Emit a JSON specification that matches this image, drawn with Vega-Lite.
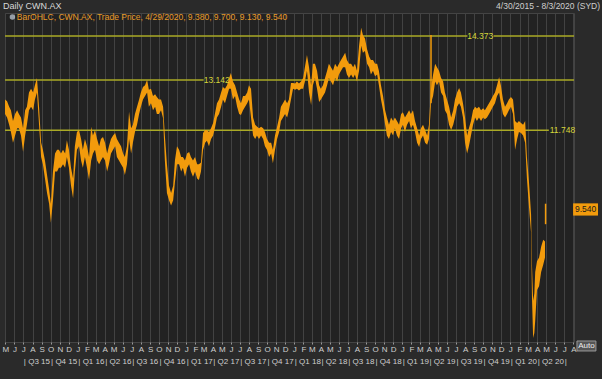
{
  "$schema": "https://vega.github.io/schema/vega-lite/v6.json",
  "width": 569,
  "height": 329,
  "autosize": {"type": "none"},
  "padding": {"left": 5, "top": 13, "right": 28, "bottom": 37},
  "background": "#2a2a2a",
  "config": {
    "view": {"fill": "#222222", "stroke": "#444444"},
    "axis": {"labelFont": "Liberation Sans", "titleFont": "Liberation Sans", "gridColor": "#424242", "gridWidth": 1, "gridOpacity": 1},
    "text": {"font": "Liberation Sans"}
  },
  "resolve": {"axis": {"x": "independent"}},
  "datasets": {
    "levels": [
      {"v": 14.373, "d1": "2015-04-30", "d2": "2019-08-09"},
      {"v": 14.373, "d1": "2019-11-05", "d2": "2020-08-03"},
      {"v": 13.142, "d1": "2015-04-30", "d2": "2017-03-01"},
      {"v": 13.142, "d1": "2017-05-26", "d2": "2020-08-03"},
      {"v": 11.748, "d1": "2015-04-30", "d2": "2020-05-10"}
    ],
    "levelLabels": [
      {"v": 14.373, "d": "2019-09-21", "t": "14.373"},
      {"v": 13.142, "d": "2017-04-14", "t": "13.142"},
      {"v": 11.748, "d": "2020-06-25", "t": "11.748"}
    ],
    "bars": [
      {"d": "2019-04-08", "lo": 12.5, "hi": 14.4},
      {"d": "2020-04-29", "lo": 9.13, "hi": 9.70}
    ],
    "price": [
      {"d": "2015-04-30", "lo": 12.2, "hi": 12.6},
      {"d": "2015-05-07", "lo": 12.1, "hi": 12.55},
      {"d": "2015-05-14", "lo": 11.9, "hi": 12.4},
      {"d": "2015-05-20", "lo": 11.7, "hi": 12.3},
      {"d": "2015-05-27", "lo": 11.4, "hi": 12.0},
      {"d": "2015-06-03", "lo": 11.6, "hi": 12.2},
      {"d": "2015-06-10", "lo": 11.8, "hi": 12.3},
      {"d": "2015-06-16", "lo": 11.8, "hi": 12.2},
      {"d": "2015-06-23", "lo": 11.6, "hi": 12.1},
      {"d": "2015-06-30", "lo": 11.15, "hi": 11.8},
      {"d": "2015-07-07", "lo": 11.6, "hi": 12.3},
      {"d": "2015-07-13", "lo": 11.9, "hi": 12.4},
      {"d": "2015-07-20", "lo": 12.3, "hi": 12.8},
      {"d": "2015-07-27", "lo": 12.4, "hi": 12.9},
      {"d": "2015-08-03", "lo": 12.3, "hi": 12.8},
      {"d": "2015-08-09", "lo": 12.6, "hi": 13.0},
      {"d": "2015-08-16", "lo": 12.8, "hi": 13.2},
      {"d": "2015-08-23", "lo": 11.9, "hi": 12.4},
      {"d": "2015-08-30", "lo": 11.0, "hi": 11.4},
      {"d": "2015-09-05", "lo": 10.8, "hi": 11.2},
      {"d": "2015-09-12", "lo": 10.4, "hi": 10.9},
      {"d": "2015-09-19", "lo": 10.0, "hi": 10.5},
      {"d": "2015-09-26", "lo": 9.7, "hi": 10.1},
      {"d": "2015-10-02", "lo": 9.17, "hi": 9.7},
      {"d": "2015-10-09", "lo": 9.8, "hi": 10.6},
      {"d": "2015-10-16", "lo": 10.6, "hi": 11.1},
      {"d": "2015-10-23", "lo": 10.6, "hi": 11.2},
      {"d": "2015-10-29", "lo": 10.7, "hi": 11.2},
      {"d": "2015-11-05", "lo": 10.7, "hi": 11.1},
      {"d": "2015-11-12", "lo": 10.8, "hi": 11.2},
      {"d": "2015-11-19", "lo": 10.7, "hi": 11.1},
      {"d": "2015-11-25", "lo": 11.0, "hi": 11.47},
      {"d": "2015-12-02", "lo": 10.7, "hi": 11.2},
      {"d": "2015-12-09", "lo": 10.2, "hi": 10.7},
      {"d": "2015-12-16", "lo": 9.85, "hi": 10.4},
      {"d": "2015-12-22", "lo": 10.6, "hi": 11.3},
      {"d": "2015-12-29", "lo": 11.2, "hi": 11.7},
      {"d": "2016-01-05", "lo": 11.3, "hi": 11.75},
      {"d": "2016-01-12", "lo": 10.9, "hi": 11.5},
      {"d": "2016-01-18", "lo": 10.7, "hi": 11.2},
      {"d": "2016-01-25", "lo": 11.0, "hi": 11.5},
      {"d": "2016-02-01", "lo": 10.7, "hi": 11.3},
      {"d": "2016-02-08", "lo": 10.36, "hi": 11.0},
      {"d": "2016-02-15", "lo": 10.9, "hi": 11.84},
      {"d": "2016-02-21", "lo": 11.1, "hi": 11.6},
      {"d": "2016-02-28", "lo": 11.2, "hi": 11.75},
      {"d": "2016-03-06", "lo": 10.9, "hi": 11.5},
      {"d": "2016-03-13", "lo": 10.8, "hi": 11.3},
      {"d": "2016-03-19", "lo": 10.9, "hi": 11.5},
      {"d": "2016-03-26", "lo": 11.0, "hi": 11.56},
      {"d": "2016-04-02", "lo": 10.9, "hi": 11.4},
      {"d": "2016-04-09", "lo": 10.6, "hi": 11.1},
      {"d": "2016-04-15", "lo": 10.8, "hi": 11.3},
      {"d": "2016-04-22", "lo": 11.1, "hi": 11.5},
      {"d": "2016-04-29", "lo": 11.2, "hi": 11.6},
      {"d": "2016-05-06", "lo": 11.3, "hi": 11.67},
      {"d": "2016-05-12", "lo": 11.0, "hi": 11.5},
      {"d": "2016-05-19", "lo": 10.9, "hi": 11.4},
      {"d": "2016-05-26", "lo": 10.8, "hi": 11.3},
      {"d": "2016-06-02", "lo": 10.7, "hi": 11.1},
      {"d": "2016-06-08", "lo": 10.5, "hi": 11.0},
      {"d": "2016-06-15", "lo": 10.8, "hi": 11.3},
      {"d": "2016-06-22", "lo": 11.5, "hi": 12.26},
      {"d": "2016-06-29", "lo": 11.1, "hi": 11.8},
      {"d": "2016-07-05", "lo": 11.4, "hi": 11.9},
      {"d": "2016-07-12", "lo": 11.7, "hi": 12.2},
      {"d": "2016-07-19", "lo": 11.9, "hi": 12.4},
      {"d": "2016-07-26", "lo": 12.2, "hi": 12.6},
      {"d": "2016-08-01", "lo": 12.4, "hi": 12.8},
      {"d": "2016-08-08", "lo": 12.6, "hi": 12.95},
      {"d": "2016-08-15", "lo": 12.7, "hi": 13.0},
      {"d": "2016-08-22", "lo": 12.8, "hi": 13.15},
      {"d": "2016-08-28", "lo": 12.4, "hi": 12.87},
      {"d": "2016-09-04", "lo": 12.5, "hi": 12.9},
      {"d": "2016-09-11", "lo": 12.3, "hi": 12.7},
      {"d": "2016-09-18", "lo": 12.4, "hi": 12.75},
      {"d": "2016-09-24", "lo": 12.2, "hi": 12.67},
      {"d": "2016-10-01", "lo": 12.2, "hi": 12.6},
      {"d": "2016-10-08", "lo": 12.3, "hi": 12.6},
      {"d": "2016-10-15", "lo": 12.08, "hi": 12.4},
      {"d": "2016-10-21", "lo": 10.9, "hi": 11.6},
      {"d": "2016-10-28", "lo": 10.0, "hi": 10.8},
      {"d": "2016-11-04", "lo": 9.8, "hi": 10.2},
      {"d": "2016-11-11", "lo": 9.65, "hi": 10.0},
      {"d": "2016-11-18", "lo": 9.8, "hi": 10.2},
      {"d": "2016-11-24", "lo": 10.3, "hi": 10.9},
      {"d": "2016-12-01", "lo": 10.8, "hi": 11.3},
      {"d": "2016-12-08", "lo": 10.8, "hi": 11.2},
      {"d": "2016-12-15", "lo": 10.6, "hi": 11.0},
      {"d": "2016-12-21", "lo": 10.7, "hi": 11.0},
      {"d": "2016-12-28", "lo": 10.45, "hi": 10.9},
      {"d": "2017-01-04", "lo": 10.7, "hi": 11.1},
      {"d": "2017-01-11", "lo": 10.8, "hi": 11.14},
      {"d": "2017-01-17", "lo": 10.6, "hi": 11.0},
      {"d": "2017-01-24", "lo": 10.45, "hi": 10.9},
      {"d": "2017-01-31", "lo": 10.6, "hi": 11.0},
      {"d": "2017-02-07", "lo": 10.4, "hi": 10.8},
      {"d": "2017-02-13", "lo": 10.36, "hi": 10.8},
      {"d": "2017-02-20", "lo": 10.6, "hi": 10.85},
      {"d": "2017-02-27", "lo": 11.2, "hi": 11.67},
      {"d": "2017-03-06", "lo": 11.4, "hi": 11.75},
      {"d": "2017-03-12", "lo": 11.45, "hi": 11.75},
      {"d": "2017-03-19", "lo": 11.3, "hi": 11.7},
      {"d": "2017-03-26", "lo": 11.5, "hi": 11.8},
      {"d": "2017-04-02", "lo": 11.6, "hi": 11.95},
      {"d": "2017-04-08", "lo": 11.8, "hi": 12.2},
      {"d": "2017-04-15", "lo": 12.1, "hi": 12.5},
      {"d": "2017-04-22", "lo": 12.2, "hi": 12.6},
      {"d": "2017-04-29", "lo": 12.4, "hi": 12.8},
      {"d": "2017-05-05", "lo": 12.6, "hi": 12.95},
      {"d": "2017-05-12", "lo": 12.5, "hi": 12.9},
      {"d": "2017-05-19", "lo": 12.7, "hi": 13.0},
      {"d": "2017-05-26", "lo": 12.9, "hi": 13.2},
      {"d": "2017-06-01", "lo": 12.9, "hi": 13.34},
      {"d": "2017-06-08", "lo": 12.6, "hi": 13.1},
      {"d": "2017-06-15", "lo": 12.7, "hi": 13.0},
      {"d": "2017-06-22", "lo": 12.4, "hi": 12.8},
      {"d": "2017-06-29", "lo": 12.2, "hi": 12.6},
      {"d": "2017-07-05", "lo": 12.17, "hi": 12.5},
      {"d": "2017-07-12", "lo": 12.3, "hi": 12.7},
      {"d": "2017-07-19", "lo": 12.4, "hi": 12.7},
      {"d": "2017-07-26", "lo": 12.5, "hi": 12.8},
      {"d": "2017-08-01", "lo": 12.6, "hi": 13.0},
      {"d": "2017-08-08", "lo": 12.1, "hi": 12.9},
      {"d": "2017-08-15", "lo": 11.6, "hi": 12.1},
      {"d": "2017-08-22", "lo": 11.5, "hi": 11.9},
      {"d": "2017-08-28", "lo": 11.6, "hi": 11.85},
      {"d": "2017-09-04", "lo": 11.5, "hi": 11.8},
      {"d": "2017-09-11", "lo": 11.6, "hi": 11.84},
      {"d": "2017-09-18", "lo": 11.5, "hi": 11.8},
      {"d": "2017-09-24", "lo": 11.3, "hi": 11.7},
      {"d": "2017-10-01", "lo": 11.2, "hi": 11.5},
      {"d": "2017-10-08", "lo": 11.0, "hi": 11.4},
      {"d": "2017-10-15", "lo": 11.1, "hi": 11.4},
      {"d": "2017-10-21", "lo": 10.83, "hi": 11.2},
      {"d": "2017-10-28", "lo": 11.2, "hi": 11.6},
      {"d": "2017-11-04", "lo": 11.5, "hi": 11.84},
      {"d": "2017-11-11", "lo": 11.7, "hi": 12.1},
      {"d": "2017-11-17", "lo": 12.0, "hi": 12.4},
      {"d": "2017-11-24", "lo": 12.1, "hi": 12.5},
      {"d": "2017-12-01", "lo": 12.2, "hi": 12.6},
      {"d": "2017-12-08", "lo": 12.1, "hi": 12.5},
      {"d": "2017-12-14", "lo": 12.3, "hi": 12.6},
      {"d": "2017-12-21", "lo": 12.6, "hi": 13.06},
      {"d": "2017-12-28", "lo": 12.9, "hi": 13.06},
      {"d": "2018-01-04", "lo": 12.87, "hi": 13.05},
      {"d": "2018-01-10", "lo": 12.9, "hi": 13.1},
      {"d": "2018-01-17", "lo": 12.85, "hi": 13.05},
      {"d": "2018-01-24", "lo": 12.9, "hi": 13.1},
      {"d": "2018-01-31", "lo": 12.9, "hi": 13.2},
      {"d": "2018-02-06", "lo": 13.1, "hi": 13.5},
      {"d": "2018-02-13", "lo": 13.4, "hi": 13.84},
      {"d": "2018-02-20", "lo": 12.8, "hi": 13.5},
      {"d": "2018-02-27", "lo": 12.45, "hi": 13.0},
      {"d": "2018-03-05", "lo": 13.0, "hi": 13.6},
      {"d": "2018-03-12", "lo": 13.2, "hi": 13.6},
      {"d": "2018-03-19", "lo": 12.9, "hi": 13.4},
      {"d": "2018-03-26", "lo": 12.53, "hi": 13.0},
      {"d": "2018-04-01", "lo": 12.6, "hi": 12.9},
      {"d": "2018-04-08", "lo": 12.7, "hi": 13.0},
      {"d": "2018-04-15", "lo": 12.8, "hi": 13.2},
      {"d": "2018-04-22", "lo": 13.0, "hi": 13.4},
      {"d": "2018-04-28", "lo": 13.2, "hi": 13.6},
      {"d": "2018-05-05", "lo": 13.1, "hi": 13.5},
      {"d": "2018-05-12", "lo": 13.0, "hi": 13.4},
      {"d": "2018-05-19", "lo": 13.2, "hi": 13.6},
      {"d": "2018-05-26", "lo": 13.1, "hi": 13.5},
      {"d": "2018-06-01", "lo": 13.3, "hi": 13.6},
      {"d": "2018-06-08", "lo": 13.4, "hi": 13.7},
      {"d": "2018-06-15", "lo": 13.5, "hi": 13.8},
      {"d": "2018-06-22", "lo": 13.5, "hi": 13.9},
      {"d": "2018-06-28", "lo": 13.3, "hi": 13.7},
      {"d": "2018-07-05", "lo": 13.2, "hi": 13.6},
      {"d": "2018-07-12", "lo": 13.3, "hi": 13.6},
      {"d": "2018-07-19", "lo": 13.2, "hi": 13.5},
      {"d": "2018-07-25", "lo": 13.3, "hi": 13.6},
      {"d": "2018-08-01", "lo": 13.1, "hi": 13.4},
      {"d": "2018-08-08", "lo": 13.4, "hi": 14.1},
      {"d": "2018-08-15", "lo": 14.1, "hi": 14.6},
      {"d": "2018-08-21", "lo": 13.9, "hi": 14.4},
      {"d": "2018-08-28", "lo": 13.95, "hi": 14.3},
      {"d": "2018-09-04", "lo": 13.6, "hi": 14.0},
      {"d": "2018-09-11", "lo": 13.5, "hi": 13.8},
      {"d": "2018-09-17", "lo": 13.3, "hi": 13.7},
      {"d": "2018-09-24", "lo": 13.4, "hi": 13.7},
      {"d": "2018-10-01", "lo": 13.25, "hi": 13.6},
      {"d": "2018-10-08", "lo": 13.3, "hi": 13.6},
      {"d": "2018-10-14", "lo": 13.0, "hi": 13.4},
      {"d": "2018-10-21", "lo": 12.6, "hi": 13.0},
      {"d": "2018-10-28", "lo": 12.3, "hi": 12.7},
      {"d": "2018-11-04", "lo": 11.9, "hi": 12.3},
      {"d": "2018-11-10", "lo": 11.6, "hi": 12.1},
      {"d": "2018-11-17", "lo": 11.5, "hi": 11.9},
      {"d": "2018-11-24", "lo": 11.7, "hi": 12.1},
      {"d": "2018-12-01", "lo": 11.6, "hi": 12.0},
      {"d": "2018-12-07", "lo": 11.8, "hi": 12.1},
      {"d": "2018-12-14", "lo": 11.6, "hi": 12.0},
      {"d": "2018-12-21", "lo": 11.5, "hi": 11.9},
      {"d": "2018-12-28", "lo": 11.8, "hi": 12.2},
      {"d": "2019-01-03", "lo": 11.9, "hi": 12.25},
      {"d": "2019-01-10", "lo": 11.7, "hi": 12.1},
      {"d": "2019-01-17", "lo": 11.9, "hi": 12.2},
      {"d": "2019-01-24", "lo": 12.0, "hi": 12.3},
      {"d": "2019-01-30", "lo": 11.8, "hi": 12.2},
      {"d": "2019-02-06", "lo": 11.9, "hi": 12.3},
      {"d": "2019-02-13", "lo": 11.7, "hi": 12.0},
      {"d": "2019-02-20", "lo": 11.4, "hi": 11.8},
      {"d": "2019-02-27", "lo": 11.28, "hi": 11.6},
      {"d": "2019-03-05", "lo": 11.5, "hi": 11.8},
      {"d": "2019-03-12", "lo": 11.6, "hi": 11.9},
      {"d": "2019-03-19", "lo": 11.4, "hi": 11.75},
      {"d": "2019-03-26", "lo": 11.34, "hi": 11.6},
      {"d": "2019-04-01", "lo": 11.5, "hi": 11.9},
      {"d": "2019-04-08", "lo": 12.5, "hi": 12.9},
      {"d": "2019-04-15", "lo": 12.7, "hi": 13.3},
      {"d": "2019-04-22", "lo": 13.1, "hi": 13.6},
      {"d": "2019-04-28", "lo": 13.0, "hi": 13.5},
      {"d": "2019-05-05", "lo": 13.1, "hi": 13.4},
      {"d": "2019-05-12", "lo": 12.8, "hi": 13.2},
      {"d": "2019-05-19", "lo": 12.7, "hi": 13.1},
      {"d": "2019-05-25", "lo": 12.3, "hi": 12.8},
      {"d": "2019-06-01", "lo": 12.2, "hi": 12.6},
      {"d": "2019-06-08", "lo": 11.9, "hi": 12.4},
      {"d": "2019-06-15", "lo": 11.75, "hi": 12.1},
      {"d": "2019-06-22", "lo": 11.9, "hi": 12.3},
      {"d": "2019-06-28", "lo": 12.1, "hi": 12.6},
      {"d": "2019-07-05", "lo": 12.4, "hi": 12.8},
      {"d": "2019-07-12", "lo": 12.5, "hi": 12.92},
      {"d": "2019-07-18", "lo": 12.4, "hi": 12.8},
      {"d": "2019-07-25", "lo": 12.1, "hi": 12.5},
      {"d": "2019-08-01", "lo": 11.4, "hi": 12.1},
      {"d": "2019-08-08", "lo": 11.1, "hi": 11.6},
      {"d": "2019-08-14", "lo": 11.3, "hi": 11.8},
      {"d": "2019-08-21", "lo": 11.6, "hi": 12.0},
      {"d": "2019-08-28", "lo": 11.9, "hi": 12.3},
      {"d": "2019-09-04", "lo": 12.1, "hi": 12.4},
      {"d": "2019-09-10", "lo": 12.0, "hi": 12.35},
      {"d": "2019-09-17", "lo": 12.1, "hi": 12.4},
      {"d": "2019-09-24", "lo": 12.0, "hi": 12.3},
      {"d": "2019-10-01", "lo": 12.1, "hi": 12.36},
      {"d": "2019-10-07", "lo": 12.05, "hi": 12.3},
      {"d": "2019-10-14", "lo": 12.1, "hi": 12.4},
      {"d": "2019-10-21", "lo": 12.2, "hi": 12.5},
      {"d": "2019-10-28", "lo": 12.3, "hi": 12.6},
      {"d": "2019-11-03", "lo": 12.4, "hi": 12.7},
      {"d": "2019-11-10", "lo": 12.5, "hi": 12.8},
      {"d": "2019-11-17", "lo": 12.7, "hi": 13.0},
      {"d": "2019-11-24", "lo": 12.8, "hi": 13.23},
      {"d": "2019-11-30", "lo": 12.5, "hi": 13.0},
      {"d": "2019-12-07", "lo": 12.2, "hi": 12.6},
      {"d": "2019-12-14", "lo": 12.1, "hi": 12.4},
      {"d": "2019-12-21", "lo": 12.2, "hi": 12.5},
      {"d": "2019-12-27", "lo": 12.3, "hi": 12.6},
      {"d": "2020-01-03", "lo": 12.4, "hi": 12.67},
      {"d": "2020-01-10", "lo": 12.2, "hi": 12.6},
      {"d": "2020-01-17", "lo": 11.2, "hi": 12.0},
      {"d": "2020-01-24", "lo": 11.5, "hi": 11.95},
      {"d": "2020-01-30", "lo": 11.7, "hi": 12.0},
      {"d": "2020-02-06", "lo": 11.67, "hi": 11.95},
      {"d": "2020-02-13", "lo": 11.6, "hi": 11.9},
      {"d": "2020-02-20", "lo": 11.4, "hi": 12.0},
      {"d": "2020-02-26", "lo": 10.4, "hi": 11.0},
      {"d": "2020-03-04", "lo": 9.6, "hi": 10.3},
      {"d": "2020-03-11", "lo": 8.9, "hi": 9.4},
      {"d": "2020-03-14", "lo": 7.1, "hi": 8.0},
      {"d": "2020-03-18", "lo": 5.96, "hi": 7.0},
      {"d": "2020-03-22", "lo": 6.1, "hi": 7.2},
      {"d": "2020-03-25", "lo": 6.45, "hi": 7.8},
      {"d": "2020-03-31", "lo": 7.3, "hi": 8.1},
      {"d": "2020-04-07", "lo": 7.4, "hi": 8.2},
      {"d": "2020-04-14", "lo": 7.8, "hi": 8.5},
      {"d": "2020-04-21", "lo": 8.0, "hi": 8.7},
      {"d": "2020-04-27", "lo": 8.2, "hi": 8.65}
    ]
  },
  "layer": [
    {
      "data": {"name": "levels"},
      "mark": {"type": "rule", "color": "#aaaa26", "strokeWidth": 1.5},
      "encoding": {
        "x": {
          "field": "d1", "type": "temporal",
          "scale": {"type": "utc", "domain": [{"year": 2015, "month": 4, "date": 30, "utc": true}, {"year": 2020, "month": 8, "date": 3, "utc": true}]},
          "axis": {
            "orient": "bottom", "title": null, "grid": true, "domain": false,
            "tickCount": {"interval": "month", "step": 1},
            "labelExpr": "substring(utcFormat(datum.value, '%b'), 0, 1)",
            "labelOverlap": false, "labelFlush": false, "labelBound": false,
            "tickSize": 2, "tickColor": "#9a9a9a", "labelPadding": 1,
            "labelFontSize": 8, "labelColor": "#cfcfcf"
          }
        },
        "x2": {"field": "d2"},
        "y": {
          "field": "v", "type": "quantitative",
          "scale": {"domain": [5.85, 15.01], "nice": false, "zero": false},
          "axis": {
            "orient": "right", "grid": true,
            "values": [6, 6.5, 7, 7.5, 8, 8.5, 9, 9.5, 10, 10.5, 11, 11.5, 12, 12.5, 13, 13.5, 14, 14.5],
            "format": "~g", "labelFontSize": 8.5, "labelColor": "#cfcfcf",
            "tickSize": 3, "tickColor": "#9a9a9a", "labelPadding": 1,
            "domainColor": "#6a6a6a",
            "title": ["Price", "AUD"], "titleAngle": 0, "titleAlign": "left", "titleBaseline": "top",
            "titleX": 3, "titleY": -2, "titleFontSize": 8.5, "titleFontWeight": "normal", "titleColor": "#d8d8d8", "titleLineHeight": 10
          }
        }
      }
    },
    {
      "data": {"name": "price"},
      "mark": {"type": "area", "color": "#f29b0c", "interpolate": "linear"},
      "encoding": {
        "x": {
          "field": "d", "type": "temporal",
          "scale": {"type": "utc", "domain": [{"year": 2015, "month": 4, "date": 30, "utc": true}, {"year": 2020, "month": 8, "date": 3, "utc": true}]},
          "axis": {
            "orient": "bottom", "title": null, "grid": false, "domain": false, "ticks": false,
            "offset": 13,
            "tickCount": {"interval": "month", "step": 3},
            "labelExpr": "(utcyear(datum.value) == 2020 && utcmonth(datum.value) >= 6) ? '|' : '| Q' + (floor(utcmonth(datum.value) / 3) + 1) + ' ' + utcFormat(datum.value, '%y')",
            "labelAlign": "left", "labelOverlap": false, "labelFlush": false, "labelBound": false,
            "labelPadding": 2, "labelFontSize": 8, "labelColor": "#cfcfcf", "labelFontWeight": "normal"
          }
        },
        "y": {"field": "lo", "type": "quantitative", "axis": null},
        "y2": {"field": "hi"}
      }
    },
    {
      "data": {"name": "bars"},
      "mark": {"type": "rule", "color": "#f29b0c", "strokeWidth": 1.5},
      "encoding": {
        "x": {"field": "d", "type": "temporal", "axis": null},
        "y": {"field": "lo", "type": "quantitative", "axis": null},
        "y2": {"field": "hi"}
      }
    },
    {
      "data": {"name": "levelLabels"},
      "mark": {"type": "text", "color": "#d6d63a", "fontSize": 8.5, "align": "center", "baseline": "middle"},
      "encoding": {
        "x": {"field": "d", "type": "temporal", "axis": null},
        "y": {"field": "v", "type": "quantitative", "axis": null},
        "text": {"field": "t"}
      }
    },
    {
      "data": {"values": [{}]},
      "mark": {"type": "rect", "color": "#f29b0c"},
      "encoding": {
        "x": {"datum": {"year": 2020, "month": 7, "date": 31, "utc": true}, "type": "temporal", "axis": null},
        "x2": {"datum": {"year": 2020, "month": 10, "date": 23, "utc": true}},
        "y": {"datum": 9.37, "type": "quantitative", "axis": null},
        "y2": {"datum": 9.71}
      }
    },
    {
      "data": {"values": [{}]},
      "mark": {"type": "text", "text": "9.540", "color": "#1a1a1a", "fontSize": 8.5, "align": "center", "baseline": "middle"},
      "encoding": {
        "x": {"datum": {"year": 2020, "month": 9, "date": 11, "utc": true}, "type": "temporal", "axis": null},
        "y": {"datum": 9.54, "type": "quantitative", "axis": null}
      }
    },
    {
      "data": {"values": [{}]},
      "mark": {"type": "rect", "color": "#555555", "stroke": "#9a9a9a", "strokeWidth": 1},
      "encoding": {
        "x": {"datum": {"year": 2020, "month": 8, "date": 13, "utc": true}, "type": "temporal", "axis": null},
        "x2": {"datum": {"year": 2020, "month": 10, "date": 16, "utc": true}},
        "y": {"datum": 5.6, "type": "quantitative", "axis": null},
        "y2": {"datum": 5.878}
      }
    },
    {
      "data": {"values": [{}]},
      "mark": {"type": "text", "text": "Auto", "color": "#eeeeee", "fontSize": 8, "align": "center", "baseline": "middle"},
      "encoding": {
        "x": {"datum": {"year": 2020, "month": 9, "date": 14, "utc": true}, "type": "temporal", "axis": null},
        "y": {"datum": 5.74, "type": "quantitative", "axis": null}
      }
    },
    {
      "data": {"values": [{}]},
      "mark": {"type": "text", "text": "4/30/2015 - 8/3/2020 (SYD)", "color": "#cfcfcf", "fontSize": 8.5, "align": "right", "baseline": "middle"},
      "encoding": {
        "x": {"datum": {"year": 2020, "month": 10, "date": 30, "utc": true}, "type": "temporal", "axis": null},
        "y": {"datum": 15.2, "type": "quantitative", "axis": null}
      }
    },
    {
      "data": {"values": [{}]},
      "mark": {"type": "text", "text": "Daily CWN.AX", "color": "#d8d8d8", "fontSize": 9, "align": "left", "baseline": "middle", "dx": -2},
      "encoding": {
        "x": {"datum": {"year": 2015, "month": 4, "date": 30, "utc": true}, "type": "temporal", "axis": null},
        "y": {"datum": 15.2, "type": "quantitative", "axis": null}
      }
    },
    {
      "data": {"values": [{}]},
      "mark": {"type": "text", "text": "BarOHLC, CWN.AX, Trade Price, 4/29/2020, 9.380, 9.700, 9.130, 9.540", "color": "#e89a28", "fontSize": 8.5, "align": "left", "baseline": "middle"},
      "encoding": {
        "x": {"datum": {"year": 2015, "month": 6, "date": 9, "utc": true}, "type": "temporal", "axis": null},
        "y": {"datum": 14.9, "type": "quantitative", "axis": null}
      }
    },
    {
      "data": {"values": [{}]},
      "mark": {"type": "point", "filled": true, "color": "#c8d4e0", "size": 30, "shape": "circle"},
      "encoding": {
        "x": {"datum": {"year": 2015, "month": 5, "date": 25, "utc": true}, "type": "temporal", "axis": null},
        "y": {"datum": 14.9, "type": "quantitative", "axis": null}
      }
    }
  ]
}
